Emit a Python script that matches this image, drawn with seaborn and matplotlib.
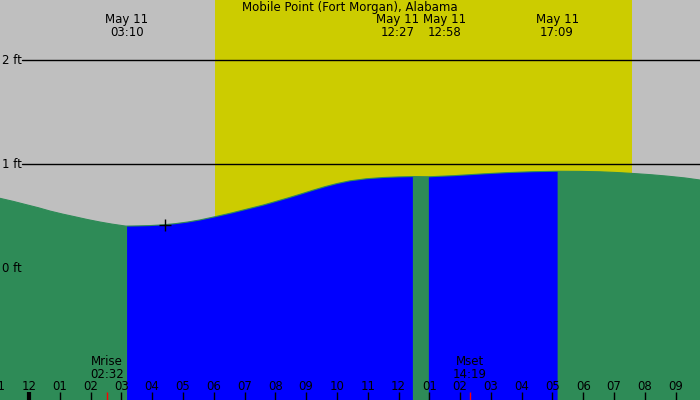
import matplotlib
matplotlib.use('Agg')
import matplotlib.pyplot as plt
import seaborn as sns
import numpy as np

# tide curve: hours after midnight May 11, height in ft
hours = [-0.94, -0.5, -0.13, 0.3, 0.68, 1.1, 1.49, 1.9, 2.31, 2.7, 3.12, 3.17,
         3.55, 3.93, 4.35, 4.74, 5.15, 5.55, 6.04, 6.6, 7.18, 7.6, 7.99, 8.4,
         8.80, 9.2, 9.61, 10.0, 10.42, 10.95, 11.49, 12.0, 12.45, 12.97, 13.8,
         14.74, 15.5, 16.36, 17.15, 17.9, 18.54, 19.1, 19.61, 20.2, 20.71, 21.3, 21.79]
height_ft = [0.670, 0.640, 0.612, 0.580, 0.548, 0.518, 0.493, 0.466, 0.442, 0.422, 0.404, 0.403,
             0.405, 0.408, 0.415, 0.426, 0.442, 0.462, 0.493, 0.531, 0.574, 0.605, 0.638, 0.673,
             0.709, 0.746, 0.782, 0.812, 0.838, 0.858, 0.870, 0.876, 0.879, 0.877, 0.888,
             0.905, 0.917, 0.926, 0.930, 0.929, 0.925, 0.918, 0.909, 0.897, 0.884, 0.866, 0.846]

event_hours = [3.17, 12.45, 12.97, 17.15]
event_labels = ['03:10', '12:27', '12:58', '17:09']
event_offsets = [0, -15, 16, 0]          # label nudges (px) so they don't overlap
blue_spans = [(3.17, 12.45), (12.97, 17.15)]

sunrise, sunset = 6.04, 19.58
moon_hours = [2.53, 14.32]
moon_labels = ['Mrise\n02:32', 'Mset\n14:19']
now_hour, now_ft = 4.42, 0.416

tick_hours = list(range(-1, 22))
tick_labels = ['%02d' % (h % 12 if h % 12 else 12) for h in tick_hours]
level_lines = [1, 2]
level_labels = ['0 ft', '1 ft', '2 ft']
level_vals = [0, 1, 2]

title = 'Mobile Point (Fort Morgan), Alabama'

x_lo, x_hi = -0.94, 21.79
y_lo, y_hi = -1.269, 2.577

sns.set_style('white')
plt.rcParams['font.family'] = ['DejaVu Sans']
plt.rcParams['text.color'] = 'black'

fig = plt.figure(figsize=(7, 4), dpi=100)
ax = fig.add_axes([0, 0, 1, 1])
ax.set_facecolor('#bfbfbf')
ax.set_xlim(x_lo, x_hi)
ax.set_ylim(y_lo, y_hi)
for s in ax.spines.values():
    s.set_visible(False)
ax.set_xticks([])
ax.set_yticks([])

ax.axvspan(sunrise, sunset, color='#cccc00', zorder=1, lw=0)

t = np.array(hours)
h = np.array(height_ft)
ax.fill_between(t, y_lo, h, color='#2e8b57', lw=0, zorder=2)
sns.lineplot(x=t, y=h, ax=ax, color='#2e8b57', lw=0.8, zorder=2)
for a, b in blue_spans:
    m = (t >= a) & (t <= b)
    ax.fill_between(t[m], y_lo, h[m], color='#0000ff', lw=0, zorder=3)

for lv in level_lines:
    ax.axhline(lv, xmin=22 / 700, xmax=1, color='black', lw=1, zorder=4)
for lab, lv in zip(level_labels, level_vals):
    ax.text(x_lo + 0.07, lv, lab, fontsize=8.5, ha='left', va='center', zorder=5)

trans = ax.get_xaxis_transform()
ax.text(0.5, 0.98, title, transform=ax.transAxes, ha='center', va='center', fontsize=8.5, zorder=5)
for eh, el, off in zip(event_hours, event_labels, event_offsets):
    ax.annotate('May 11\n' + el, xy=(eh, 0.935), xycoords=trans,
                xytext=(off, 0), textcoords='offset pixels',
                ha='center', va='center', fontsize=8.5, linespacing=0.95, zorder=5)

ax.plot([now_hour], [now_ft], marker='+', color='black', ms=8, mew=1, zorder=6)

# hour ticks along the bottom
for th, tl in zip(tick_hours, tick_labels):
    ax.text(th, 0.035, tl, transform=trans, ha='center', va='center', fontsize=8.5, zorder=5)
    ax.plot([th, th], [0, 0.02], transform=trans, color='black',
            lw=3 if th == 0 else 1, zorder=5, solid_capstyle='butt')
for mh, ml in zip(moon_hours, moon_labels):
    ax.plot([mh, mh], [0, 0.02], transform=trans, color='red', lw=1, zorder=6,
            solid_capstyle='butt')
    ax.text(mh, 0.08, ml, transform=trans, ha='center', va='center', fontsize=8.5,
            linespacing=0.95, zorder=5)

fig.savefig('out.png', dpi=100)
plt.close(fig)
